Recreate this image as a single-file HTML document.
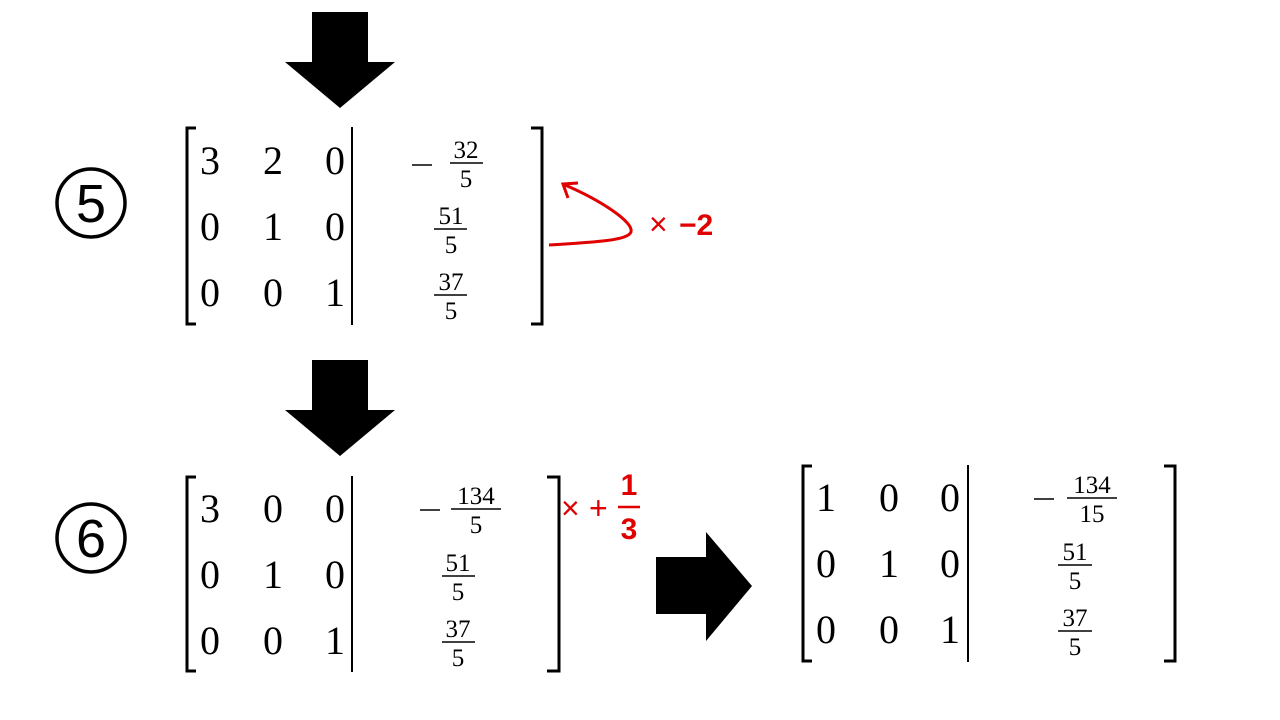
<!DOCTYPE html>
<html><head><meta charset="utf-8"><style>
html,body{margin:0;padding:0;background:#fff;width:1280px;height:720px;overflow:hidden}
svg{display:block}
text{font-family:"Liberation Serif",serif;fill:#000}
.d{font-size:40px;text-anchor:middle}
.f{font-size:25px;text-anchor:middle}
.r{fill:#e00000;font-family:"Liberation Sans",sans-serif}
</style></head><body>
<svg width="1280" height="720" viewBox="0 0 1280 720">
<polygon points="312,12 368,12 368,62 395,62 340,108 285,62 312,62" fill="#000"/>
<polygon points="312,360 368,360 368,410 395,410 340,456 285,410 312,410" fill="#000"/>
<polygon points="656,557 706,557 706,532 752,586 706,641 706,614 656,614" fill="#000"/>
<!-- circled numbers -->
<circle cx="91" cy="203" r="34" fill="none" stroke="#000" stroke-width="3.5"/>
<text x="91" y="222" font-size="54" text-anchor="middle" style="font-family:'Liberation Sans',sans-serif">5</text>
<circle cx="91" cy="538" r="34" fill="none" stroke="#000" stroke-width="3.5"/>
<text x="91" y="557" font-size="54" text-anchor="middle" style="font-family:'Liberation Sans',sans-serif">6</text>
<g fill="none" stroke="#000" stroke-width="3">
<polyline points="196,128 187,128 187,324 196,324"/>
<polyline points="531,128 542,128 542,324 531,324"/>
<line x1="352" y1="127" x2="352" y2="325" stroke-width="2"/>
<polyline points="196,477 187,477 187,671 196,671"/>
<polyline points="547,477 559,477 559,671 547,671"/>
<line x1="352" y1="476" x2="352" y2="672" stroke-width="2"/>
<polyline points="812,466 803,466 803,661 812,661"/>
<polyline points="1164,466 1175,466 1175,661 1164,661"/>
<line x1="968" y1="465" x2="968" y2="662" stroke-width="2"/>
</g>
<text class="d" x="210" y="174">3</text><text class="d" x="273" y="174">2</text><text class="d" x="335" y="174">0</text>
<text class="d" x="210" y="240">0</text><text class="d" x="273" y="240">1</text><text class="d" x="335" y="240">0</text>
<text class="d" x="210" y="306">0</text><text class="d" x="273" y="306">0</text><text class="d" x="335" y="306">1</text>
<g stroke="#000" stroke-width="1.5">
<line x1="412" y1="165" x2="432" y2="165"/><line x1="450" y1="163" x2="483" y2="163"/>
<line x1="434" y1="229" x2="467" y2="229"/>
<line x1="434" y1="295" x2="467" y2="295"/>
</g>
<text class="f" x="466" y="158">32</text><text class="f" x="466" y="187">5</text>
<text class="f" x="451" y="224">51</text><text class="f" x="451" y="253">5</text>
<text class="f" x="451" y="290">37</text><text class="f" x="451" y="319">5</text>
<text class="d" x="210" y="522">3</text><text class="d" x="273" y="522">0</text><text class="d" x="335" y="522">0</text>
<text class="d" x="210" y="588">0</text><text class="d" x="273" y="588">1</text><text class="d" x="335" y="588">0</text>
<text class="d" x="210" y="654">0</text><text class="d" x="273" y="654">0</text><text class="d" x="335" y="654">1</text>
<g stroke="#000" stroke-width="1.5">
<line x1="420" y1="510" x2="440" y2="510"/><line x1="451" y1="509" x2="501" y2="509"/>
<line x1="442" y1="576" x2="475" y2="576"/>
<line x1="442" y1="642" x2="475" y2="642"/>
</g>
<text class="f" x="476" y="504">134</text><text class="f" x="476" y="533">5</text>
<text class="f" x="458" y="571">51</text><text class="f" x="458" y="600">5</text>
<text class="f" x="458" y="637">37</text><text class="f" x="458" y="666">5</text>
<text class="d" x="826" y="511">1</text><text class="d" x="889" y="511">0</text><text class="d" x="950" y="511">0</text>
<text class="d" x="826" y="577">0</text><text class="d" x="889" y="577">1</text><text class="d" x="950" y="577">0</text>
<text class="d" x="826" y="643">0</text><text class="d" x="889" y="643">0</text><text class="d" x="950" y="643">1</text>
<g stroke="#000" stroke-width="1.5">
<line x1="1034" y1="499" x2="1054" y2="499"/><line x1="1067" y1="498" x2="1117" y2="498"/>
<line x1="1058" y1="565" x2="1092" y2="565"/>
<line x1="1058" y1="631" x2="1092" y2="631"/>
</g>
<text class="f" x="1092" y="493">134</text><text class="f" x="1092" y="522">15</text>
<text class="f" x="1075" y="560">51</text><text class="f" x="1075" y="589">5</text>
<text class="f" x="1075" y="626">37</text><text class="f" x="1075" y="655">5</text>
<path d="M549,245 C600,242 628,240 631,232 C634,222 600,200 565,185" fill="none" stroke="#e00000" stroke-width="3"/>
<polyline points="568,198 563,184 578,183" fill="none" stroke="#e00000" stroke-width="3"/>
<text class="r" x="649" y="235" font-size="32">×</text>
<text class="r" x="679" y="235" font-size="30" font-weight="bold">−2</text>
<text class="r" x="561" y="519" font-size="32">×</text>
<text class="r" x="589" y="519" font-size="32">+</text>
<text class="r" x="629" y="495" font-size="30" font-weight="bold" text-anchor="middle">1</text>
<line x1="618" y1="507" x2="640" y2="507" stroke="#e00000" stroke-width="2.5"/>
<text class="r" x="629" y="539" font-size="30" font-weight="bold" text-anchor="middle">3</text>
</svg>
</body></html>
